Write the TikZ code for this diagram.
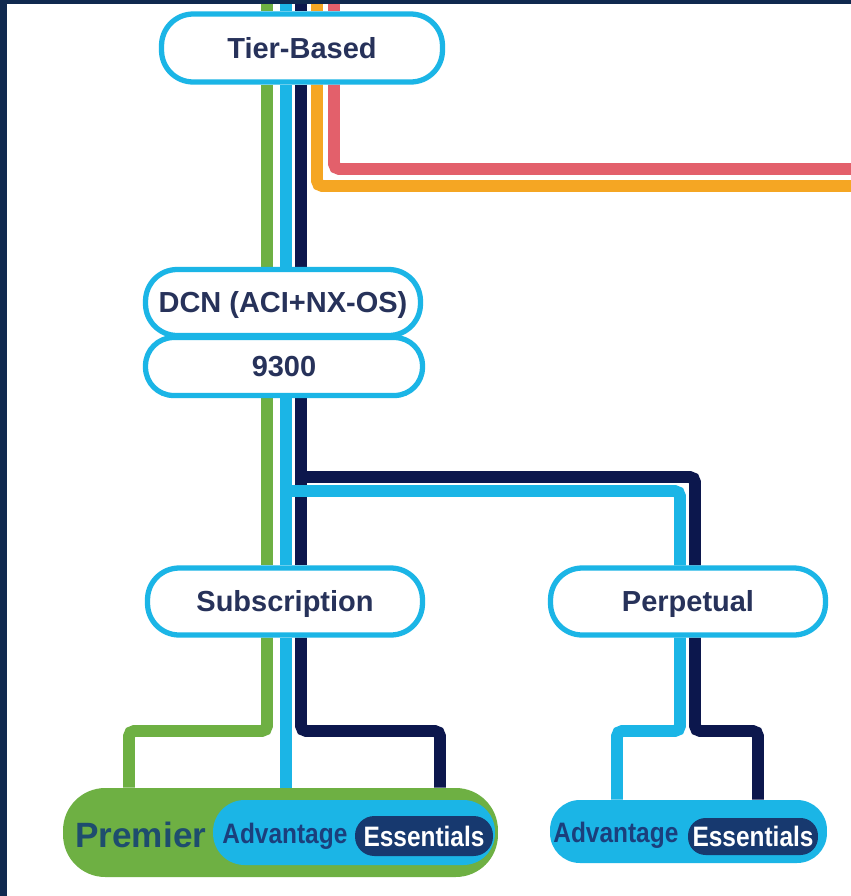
\documentclass[tikz,border=0pt]{standalone}
\usepackage{graphicx}
\usepackage{fontspec}
\setmainfont{Liberation Sans}
\usetikzlibrary{backgrounds}

\definecolor{framenavy}{HTML}{10294F}
\definecolor{lgreen}{HTML}{6EB043}
\definecolor{lcyan}{HTML}{1BB5E6}
\definecolor{lnavy}{HTML}{0C174D}
\definecolor{lorange}{HTML}{F5A623}
\definecolor{lred}{HTML}{E3606B}
\definecolor{pilltext}{HTML}{27325A}
\definecolor{esspill}{HTML}{17396F}
\definecolor{advtext}{HTML}{1B3F7C}
\definecolor{premtext}{HTML}{1E4D6E}

\begin{document}
\begin{tikzpicture}[
	x=0.02cm, y=-0.02cm,
	pill/.style={rectangle, draw=lcyan, line width=3pt, fill=white, rounded corners=18pt, inner sep=0pt, text=pilltext, font=\fontsize{16.5}{18}\selectfont\bfseries, text height=15.8pt, text depth=4pt},
	band/.style={rectangle, inner sep=0pt},
	tag/.style={inner sep=0pt, font=\fontsize{16}{18}\selectfont\bfseries},
	trace/.style={line width=6.8pt, rounded corners=3pt}
	]
	
	\useasboundingbox (0,0) rectangle (851,896);
	
	% Track positions
	\coordinate (topedge) at (0,4);
	\coordinate (rightedge) at (851,0);
	\coordinate (gx) at (267,0);
	\coordinate (cx) at (286,0);
	\coordinate (nx) at (301,0);
	\coordinate (ox) at (317,0);
	\coordinate (rx) at (334,0);
	\coordinate (pcx) at (680,0);
	\coordinate (pnx) at (695,0);
	\coordinate (gl) at (129,0);
	\coordinate (nr) at (440,0);
	\coordinate (rcl) at (617,0);
	\coordinate (rnr) at (758,0);
	\coordinate (lowbend) at (0,731);
	\coordinate (nvsplit) at (301,477);
	\coordinate (cysplit) at (286,491);
	
	% Pills
	\node[pill, minimum width=5.62cm, minimum height=1.36cm] (tier) at (302,48) {Tier-Based};
	\node[pill, minimum width=5.5cm, minimum height=1.32cm] (dcn) at (283,302.5) {DCN (ACI+NX-OS)};
	\node[pill, rounded corners=16pt, minimum width=5.54cm, minimum height=1.16cm] (n9300) at (284,366.5) {9300};
	\node[pill, minimum width=5.5cm, minimum height=1.34cm] (sub) at (285,601.5) {Subscription};
	\node[pill, minimum width=5.5cm, minimum height=1.34cm] (perp) at (688,601.5) {Perpetual};
	
	% Subscription tiers
	\node[band, fill=lgreen, rounded corners=24pt, minimum width=8.7cm, minimum height=1.78cm] (premier) at (280.5,832.5) {};
	\node[band, fill=lcyan, rounded corners=18pt, minimum width=5.64cm, minimum height=1.3cm] (advL) at (354,832.5) {};
	\node[band, fill=esspill, rounded corners=11pt, minimum width=2.76cm, minimum height=0.8cm, tag, text=white, text height=15.5pt, text depth=4pt] (essL) at (424,836) {\scalebox{0.87}[1]{Essentials}};
	\node[tag, font=\fontsize{20}{22}\selectfont\bfseries, text=premtext, anchor=base west] (premlbl) at (75,847) {Premier};
	\node[tag, text=advtext, anchor=base west] (advlblL) at (222,843) {\scalebox{0.87}[1]{Advantage}};
	
	% Perpetual tiers
	\node[band, fill=lcyan, rounded corners=17pt, minimum width=5.54cm, minimum height=1.26cm] (advR) at (688.5,831.5) {};
	\node[band, fill=esspill, rounded corners=10pt, minimum width=2.6cm, minimum height=0.74cm, tag, text=white, text height=15.5pt, text depth=4pt] (essR) at (753,836.5) {\scalebox{0.87}[1]{Essentials}};
	\node[tag, text=advtext, anchor=base west] (advlblR) at (553,842) {\scalebox{0.87}[1]{Advantage}};
	
	\begin{scope}[on background layer]
		% Frame
		\fill[framenavy] (0,0) rectangle (851,896);
		\fill[white] (7,4) rectangle (851,896);
		
		% Red and orange tracks
		\draw[trace, lred] (topedge -| rx) -- (tier.north -| rx);
		\draw[trace, lred] (tier.south -| rx) -- (334,169) -- (rightedge |- 0,169);
		\draw[trace, lorange] (topedge -| ox) -- (tier.north -| ox);
		\draw[trace, lorange] (tier.south -| ox) -- (317,186) -- (rightedge |- 0,186);
		
		% Green track
		\draw[trace, lgreen] (topedge -| gx) -- (tier.north -| gx);
		\draw[trace, lgreen] (tier.south -| gx) -- (dcn.north -| gx);
		\draw[trace, lgreen] (n9300.south -| gx) -- (sub.north -| gx);
		\draw[trace, lgreen] (sub.south -| gx) -- (gx |- lowbend) -- (gl |- lowbend) -- (premier.north -| gl);
		
		% Navy track
		\draw[trace, lnavy] (topedge -| nx) -- (tier.north -| nx);
		\draw[trace, lnavy] (tier.south -| nx) -- (dcn.north -| nx);
		\draw[trace, lnavy] (n9300.south -| nx) -- (sub.north -| nx);
		\draw[trace, lnavy] (nvsplit) -- (pnx |- nvsplit) -- (perp.north -| pnx);
		\draw[trace, lnavy] (sub.south -| nx) -- (nx |- lowbend) -- (nr |- lowbend) -- (premier.north -| nr);
		\draw[trace, lnavy] (perp.south -| pnx) -- (pnx |- lowbend) -- (rnr |- lowbend) -- (advR.north -| rnr);
		
		% Cyan track
		\draw[trace, lcyan] (topedge -| cx) -- (tier.north -| cx);
		\draw[trace, lcyan] (tier.south -| cx) -- (dcn.north -| cx);
		\draw[trace, lcyan] (n9300.south -| cx) -- (sub.north -| cx);
		\draw[trace, lcyan] (cysplit) -- (pcx |- cysplit) -- (perp.north -| pcx);
		\draw[trace, lcyan] (sub.south -| cx) -- (premier.north -| cx);
		\draw[trace, lcyan] (perp.south -| pcx) -- (pcx |- lowbend) -- (rcl |- lowbend) -- (advR.north -| rcl);
	\end{scope}
	
\end{tikzpicture}
\end{document}
